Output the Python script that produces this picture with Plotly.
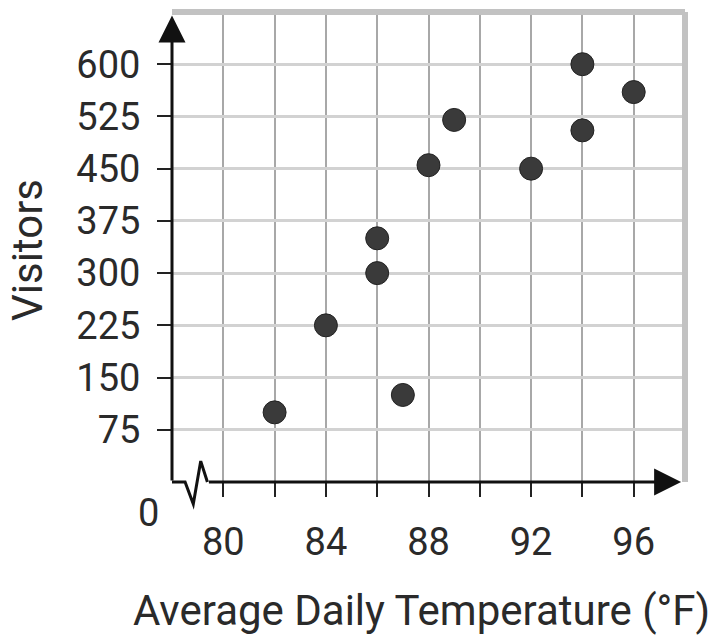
import plotly.graph_objects as go

# Data
temps = [82, 84, 86, 86, 87, 88, 89, 92, 94, 94, 96]
visitors = [100, 225, 350, 300, 125, 455, 520, 450, 600, 505, 560]

x_major = [80, 84, 88, 92, 96]
x_minor = [82, 86, 90, 94]
y_ticks = [75, 150, 225, 300, 375, 450, 525, 600]

FONT = "Roboto"
W, H = 719, 636
ML, MR, MT, MB = 172, 34, 12, 154
plot_w = W - ML - MR
plot_h = H - MT - MB

fig = go.Figure()
fig.add_trace(go.Scatter(
    x=temps, y=visitors, mode="markers",
    marker=dict(size=23, color="#3a3a3a", line=dict(color="#222222", width=1)),
    cliponaxis=False, hoverinfo="x+y", showlegend=False,
))

grid_v = "#a8a8a8"
grid_h = "#d2d2d2"
TICKFONT = dict(size=38, family=FONT, color="#2a2a2a")

fig.update_layout(
    template="none",
    width=W, height=H,
    margin=dict(l=ML, r=MR, t=MT, b=MB, autoexpand=False),
    paper_bgcolor="white", plot_bgcolor="white",
    font=dict(family=FONT, color="#222222"),
    showlegend=False,
    xaxis=dict(
        automargin=False,
        range=[78, 98], tickmode="array", tickvals=x_major,
        ticktext=[str(v) for v in x_major],
        ticks="outside", ticklen=14, tickwidth=1.5, tickcolor="#222222",
        ticklabelstandoff=12,
        showgrid=True, gridcolor=grid_v, gridwidth=1.5,
        minor=dict(tickmode="array", tickvals=x_minor, ticks="outside",
                   ticklen=14, tickwidth=1.5, tickcolor="#222222",
                   showgrid=True, gridcolor=grid_v, gridwidth=1.5),
        zeroline=False, showline=False,
        tickfont=TICKFONT,
        fixedrange=True,
    ),
    yaxis=dict(
        automargin=False,
        range=[0, 675], tickmode="array", tickvals=y_ticks,
        ticktext=[str(v) for v in y_ticks],
        ticks="outside", ticklen=14, tickwidth=1.5, tickcolor="#222222",
        ticklabelstandoff=9,
        showgrid=True, gridcolor=grid_h, gridwidth=3,
        zeroline=False, showline=False,
        tickfont=TICKFONT,
        fixedrange=True,
    ),
)

# Gray frame on top and right
fig.add_shape(type="line", xref="paper", yref="paper", x0=0, x1=1, y0=1, y1=1,
              line=dict(color="#c2c2c2", width=6))
fig.add_shape(type="line", xref="paper", yref="paper", x0=1, x1=1, y0=0, y1=1,
              line=dict(color="#c2c2c2", width=6))

# Axis break zigzag on the x-axis
dz = 22.0 / plot_h
fig.add_shape(type="path", xref="x", yref="paper",
              path=f"M 78,0 L 78.51,0 L 78.83,{-dz} L 79.12,{dz*0.95} L 79.38,0",
              line=dict(color="#111111", width=3))

# Axis arrows
fig.add_annotation(x=97.85, y=0, ax=79.38, ay=0, xref="x", yref="y",
                   axref="x", ayref="y", text="", showarrow=True,
                   arrowhead=2, arrowsize=1.8, arrowwidth=3, arrowcolor="#111111")
fig.add_annotation(x=78, y=670, ax=78, ay=0, xref="x", yref="y",
                   axref="x", ayref="y", text="", showarrow=True,
                   arrowhead=2, arrowsize=1.8, arrowwidth=3, arrowcolor="#111111")

# Origin label
fig.add_annotation(x=78, y=0, xref="x", yref="y", text="0", showarrow=False,
                   xshift=-24, yshift=-31, font=TICKFONT)

# Axis titles
fig.add_annotation(x=(421 - ML) / plot_w, y=-(610 - (H - MB)) / plot_h,
                   xref="paper", yref="paper", text="Average Daily Temperature (°F)",
                   showarrow=False, xanchor="center", yanchor="middle",
                   font=dict(size=42, family=FONT, color="#2a2a2a"))
fig.add_annotation(x=-(172 - 28) / plot_w, y=(H - MB - 250) / plot_h,
                   xref="paper", yref="paper", text="Visitors", textangle=-90,
                   showarrow=False, xanchor="center", yanchor="middle",
                   font=dict(size=42, family=FONT, color="#2a2a2a"))

fig.write_html("out.html", config={"displayModeBar": False})

# Remove the browser's default page margin so the figure sits at the window's corner
with open("out.html", "r", encoding="utf-8") as f:
    html = f.read()
html = html.replace("<head>", "<head><style>html,body{margin:0;padding:0;overflow:hidden;}</style>", 1)
with open("out.html", "w", encoding="utf-8") as f:
    f.write(html)
